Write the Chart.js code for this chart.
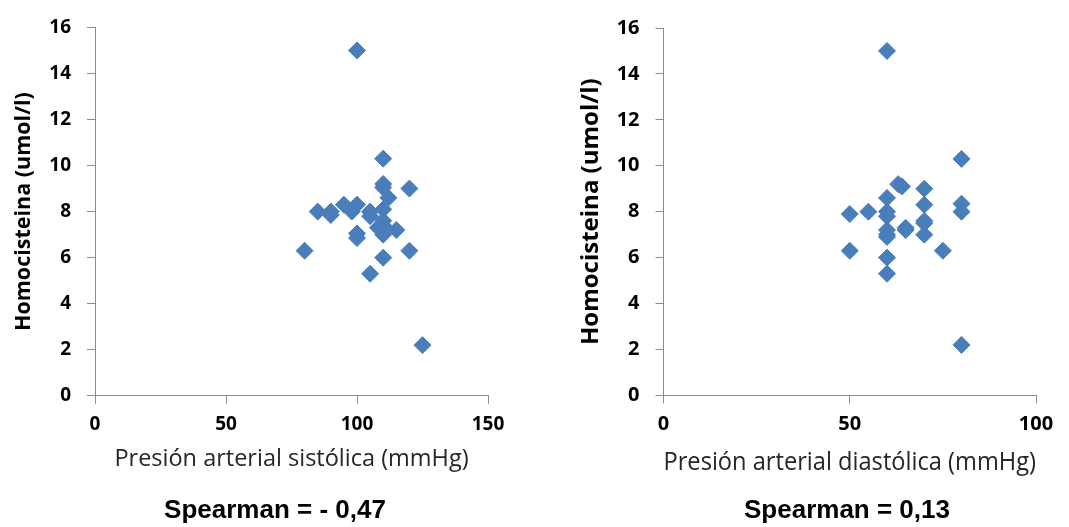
<!DOCTYPE html>
<html>
<head>
<meta charset="utf-8">
<script src="https://cdn.jsdelivr.net/npm/chart.js@4/dist/chart.umd.min.js"></script>
<style>
  html, body { margin: 0; padding: 0; background: #fff; }
  #wrap { position: relative; width: 1069px; height: 527px; overflow: hidden; }
  canvas { position: absolute; top: 0; }
  #sisChart { left: 0; }
  #diaChart { left: 540px; }
  .spearman {
    position: absolute; top: 494px; width: 300px; height: 30px;
    font: bold 26px/30px 'Liberation Sans', Arial, sans-serif;
    color: #000; text-align: center; white-space: nowrap;
  }
  #sisNote { left: 125px; }
  #diaNote { left: 697px; }
</style>
</head>
<body>
<div id="wrap">
  <canvas id="sisChart" width="550" height="527"></canvas>
  <canvas id="diaChart" width="614" height="527"></canvas>
  <div class="spearman" id="sisNote">Spearman = - 0,47</div>
  <div class="spearman" id="diaNote">Spearman = 0,13</div>
</div>
<script>
'use strict';

// presión sistólica vs homocisteína
const sistolica = [100, 110, 110, 110, 120, 112, 85, 90, 90, 95, 100, 98, 105, 105, 110, 110, 110, 108, 115, 110, 100, 100, 80, 120, 110, 105, 125];
const homocisteinaSis = [15, 10.3, 9.2, 9.05, 9.0, 8.6, 8.0, 8.0, 7.85, 8.3, 8.3, 8.0, 8.0, 7.8, 8.1, 7.6, 7.4, 7.3, 7.2, 7.0, 7.05, 6.85, 6.3, 6.3, 6.0, 5.3, 2.2];

// presión diastólica vs homocisteína
const diastolica = [60, 80, 63, 64, 70, 60, 70, 80, 80, 50, 55, 60, 60, 70, 70, 60, 65, 65, 60, 60, 70, 50, 75, 60, 60, 80];
const homocisteinaDia = [15, 10.3, 9.2, 9.1, 9.0, 8.6, 8.3, 8.35, 8.0, 7.9, 8.0, 8.0, 7.8, 7.6, 7.5, 7.2, 7.3, 7.2, 7.0, 6.9, 7.0, 6.3, 6.3, 6.0, 5.3, 2.2];

const yTicks = { min: 0, max: 16, step: 2 };
const yTitle = 'Homocisteina (umol/l)';

Chart.defaults.font.family = 'Open Sans';
Chart.defaults.color = '#000';

const axisGray = '#8c8c8c';
const markerBlue = '#4a7ebb';

function makeChart(el, xs, ys, cfg) {
    const points = xs.map((x, i) => ({ x: x, y: ys[i] }));
    return new Chart(el, {
        type: 'scatter',
        data: {
            datasets: [{
                data: points,
                pointStyle: 'rectRot',
                pointRadius: 8.5,
                pointHoverRadius: 8.5,
                backgroundColor: markerBlue,
                borderColor: markerBlue,
                borderWidth: 1
            }]
        },
        options: {
            responsive: false,
            animation: false,
            layout: { padding: { left: 0, top: cfg.top, right: cfg.right, bottom: 33.6 } },
            plugins: {
                legend: { display: false },
                tooltip: { enabled: false }
            },
            scales: {
                x: {
                    type: 'linear',
                    min: 0,
                    max: cfg.xMax,
                    afterFit: (s) => { s.height = cfg.xHeight; },
                    ticks: {
                        stepSize: 50,
                        padding: 9,
                        color: '#000',
                        font: { size: cfg.tickSize, weight: 'bold' }
                    },
                    grid: { drawOnChartArea: false, drawTicks: true, tickLength: 8, color: axisGray },
                    border: { display: true, color: axisGray, width: 1 },
                    title: {
                        display: true,
                        text: cfg.xTitle,
                        align: cfg.xAlign,
                        color: '#262626',
                        font: { size: cfg.xTitleSize },
                        padding: { top: 0, bottom: cfg.xTitlePad }
                    }
                },
                y: {
                    min: yTicks.min,
                    max: yTicks.max,
                    afterFit: (s) => { s.width = cfg.yWidth; },
                    ticks: {
                        stepSize: yTicks.step,
                        padding: 16,
                        color: '#000',
                        font: { size: cfg.tickSize, weight: 'bold' }
                    },
                    grid: { drawOnChartArea: false, drawTicks: true, tickLength: 8, color: axisGray },
                    border: { display: true, color: axisGray, width: 1 },
                    title: {
                        display: true,
                        text: yTitle,
                        color: '#000',
                        font: { size: cfg.yTitleSize, weight: 'bold' },
                        padding: { top: cfg.yTitlePad, bottom: 0 }
                    }
                }
            }
        }
    });
}

makeChart(document.getElementById('sisChart'), sistolica, homocisteinaSis, {
    xTitle: 'Presión arterial sistólica (mmHg)',
    xAlign: 'center',
    xMax: 150,
    top: 19,
    right: 62,
    yWidth: 95,
    xHeight: 97.6,
    tickSize: 19,
    xTitleSize: 23.5,
    xTitlePad: 20,
    yTitleSize: 21.5,
    yTitlePad: 11
});

makeChart(document.getElementById('diaChart'), diastolica, homocisteinaDia, {
    xTitle: 'Presión arterial diastólica (mmHg)',
    xAlign: 'start',
    xMax: 100,
    top: 22,
    right: 118,
    yWidth: 123.5,
    xHeight: 98,
    tickSize: 20,
    xTitleSize: 25,
    xTitlePad: 16,
    yTitleSize: 24,
    yTitlePad: 36.5
});
</script>
</body>
</html>
